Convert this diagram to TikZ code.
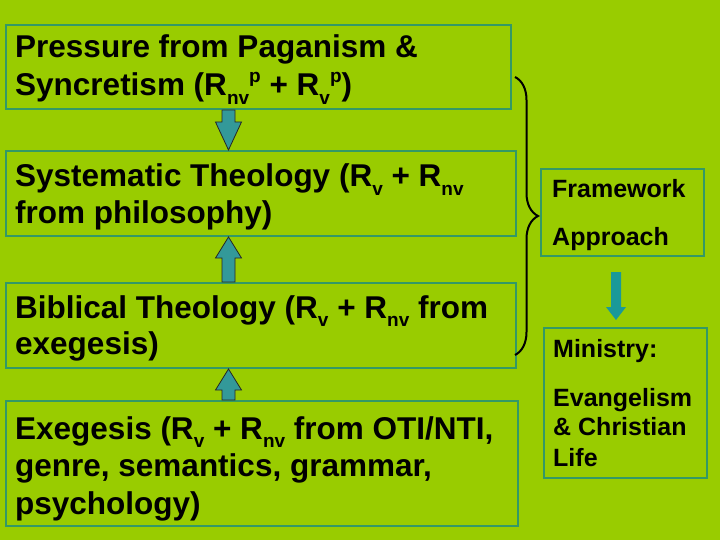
\documentclass[tikz,border=0pt]{standalone}
\usepackage{fontspec}
\setmainfont{Liberation Sans}
\usetikzlibrary{calc,decorations.pathreplacing}
\definecolor{bg}{HTML}{99CC00}
\definecolor{boxline}{HTML}{339966}
\definecolor{arrfill}{HTML}{339999}
\definecolor{arrfilltwo}{HTML}{1A9999}
% #1 start, #2 tip, #3 head length, #4 half shaft, #5 half head, #6 style
\newcommand\blockarrow[6]{%
  \coordinate (hb) at ($(#2)!#3!(#1)$);
  \path[#6] ($(#1)!#4!90:(#2)$) -- ($(hb)!#4!90:(#2)$) -- ($(hb)!#5!90:(#2)$)
    -- (#2) -- ($(hb)!#5!-90:(#2)$) -- ($(hb)!#4!-90:(#2)$) -- ($(#1)!#4!-90:(#2)$) -- cycle;}
\newcommand\sbs[1]{\raisebox{-0.28em}{\fontsize{19}{19}\selectfont #1}}
\newcommand\sps[1]{\raisebox{0.42em}{\fontsize{19}{19}\selectfont #1}}
\begin{document}
\begin{tikzpicture}[x=1pt,y=-1pt,
  box/.style={draw=boxline, line width=2pt, rectangle, inner sep=0pt, anchor=north west},
  big/.style={inner sep=0pt, anchor=base west, font=\fontsize{31.5}{36}\selectfont\bfseries},
  small/.style={inner sep=0pt, anchor=base west, font=\fontsize{25}{30}\selectfont\bfseries},
  arrowstyle/.style={fill=arrfill, draw=black!85, line width=0.8pt, line join=miter},
  thinarrow/.style={fill=arrfilltwo},
  bracestyle/.style={draw=black, decorate, decoration={brace, amplitude=23pt}, line width=2pt}]
\fill[bg] (0,0) rectangle (720,540);
\useasboundingbox (0,0) rectangle (720,540);

% boxes
\node[box, minimum width=505pt, minimum height=84pt] (b1) at (5,24) {};
\node[box, minimum width=510pt, minimum height=85pt] (b2) at (5,150) {};
\node[box, minimum width=510pt, minimum height=85pt] (b3) at (5,282) {};
\node[box, minimum width=512pt, minimum height=125pt] (b4) at (5,400) {};
\node[box, minimum width=163pt, minimum height=87pt] (fw) at (540,168) {};
\node[box, minimum width=163pt, minimum height=150pt] (mb) at (543,327) {};

% texts
\node[big] (t1a) at (15,58) {Pressure from Paganism \&};
\node[big] (t1b) at (15,96) {Syncretism (R\sbs{nv}\sps{p} + R\sbs{v}\sps{p})};
\node[big] (t2a) at (15,187) {Systematic Theology (R\sbs{v} + R\sbs{nv}};
\node[big] (t2b) at (15,224) {from philosophy)};
\node[big] (t3a) at (15,318) {Biblical Theology (R\sbs{v} + R\sbs{nv} from};
\node[big] (t3b) at (15,354) {exegesis)};
\node[big] (t4a) at (15,439) {Exegesis (R\sbs{v} + R\sbs{nv} from OTI/NTI,};
\node[big] (t4b) at (15,476) {genre, semantics, grammar,};
\node[big] (t4c) at (15,514) {psychology)};
\node[small] (f1) at (552,197) {Framework};
\node[small] (f2) at (552,245) {Approach};
\node[small] (m1) at (553,357) {Ministry:};
\node[small] (m2) at (553,406) {Evangelism};
\node[small] (m3) at (553,435) {\& Christian};
\node[small] (m4) at (553,466) {Life};

% block arrows
\coordinate (ax) at (228.5,0);
\coordinate (a1s) at (b1.south -| ax);
\coordinate (a1t) at (b2.north -| ax);
\coordinate (a2s) at (b3.north -| ax);
\coordinate (a2t) at (b2.south -| ax);
\coordinate (a3s) at (b4.north -| ax);
\coordinate (a3t) at (b3.south -| ax);
\blockarrow{a1s}{a1t}{28pt}{6.5pt}{13pt}{arrowstyle}
\blockarrow{a2s}{a2t}{21pt}{6.5pt}{13pt}{arrowstyle}
\blockarrow{a3s}{a3t}{21pt}{6.5pt}{13pt}{arrowstyle}

% small arrow to ministry
\coordinate (sx) at (616,0);
\coordinate (s1) at (616,272);
\coordinate (s2) at ($(mb.north -| sx)+(0,-7)$);
\blockarrow{s1}{s2}{13pt}{5pt}{10pt}{thinarrow}

% brace
\coordinate (br1) at (515,77);
\coordinate (br2) at (515,355);
\draw[bracestyle] (br1) -- (br2);
\end{tikzpicture}
\end{document}
